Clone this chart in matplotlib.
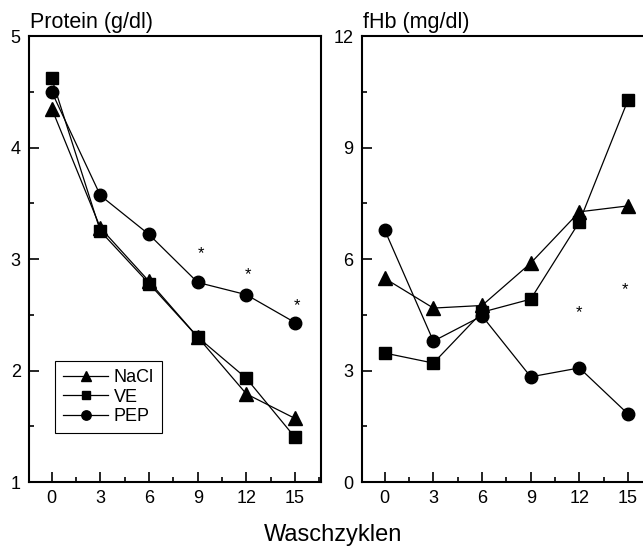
import matplotlib
matplotlib.use("Agg")
import matplotlib.pyplot as plt
from matplotlib.ticker import MultipleLocator

plt.rcParams["font.family"] = ["Liberation Sans", "DejaVu Sans"]

cycles = [0, 3, 6, 9, 12, 15]

# Protein (g/dl)
prot_nacl = [4.35, 3.28, 2.80, 2.30, 1.79, 1.57]
prot_ve = [4.62, 3.25, 2.78, 2.30, 1.93, 1.40]
prot_pep = [4.50, 3.57, 3.22, 2.79, 2.68, 2.43]
prot_star_x = [9.2, 12.1, 15.1]
prot_star_y = [3.05, 2.86, 2.58]

# fHb (mg/dl)
fhb_nacl = [5.48, 4.68, 4.75, 5.89, 7.27, 7.43]
fhb_ve = [3.47, 3.20, 4.57, 4.92, 7.00, 10.28]
fhb_pep = [6.78, 3.79, 4.47, 2.83, 3.07, 1.83]
fhb_star_x = [12.0, 14.8]
fhb_star_y = [4.55, 5.18]

series = [("NaCl", "^", 10), ("VE", "s", 8), ("PEP", "o", 9)]

fig = plt.figure(figsize=(6.43, 5.46), dpi=100)
ax1 = fig.add_axes([0.0451, 0.1172, 0.4541, 0.8168])
ax2 = fig.add_axes([0.5630, 0.1172, 0.4541, 0.8168])


def style(ax, ylim, ymaj, ymin, title):
    ax.set_xlim(-1.4, 16.6)
    ax.set_ylim(*ylim)
    ax.xaxis.set_major_locator(MultipleLocator(3))
    ax.xaxis.set_minor_locator(MultipleLocator(1.5))
    ax.yaxis.set_major_locator(MultipleLocator(ymaj))
    ax.yaxis.set_minor_locator(MultipleLocator(ymin))
    ax.tick_params(which="major", direction="in", length=7, width=1.2,
                   labelsize=13, pad=6)
    ax.tick_params(which="minor", direction="in", length=3.5, width=1.2)
    ax.tick_params(top=False, right=False, which="both")
    for s in ax.spines.values():
        s.set_linewidth(1.5)
    ax.annotate(title, xy=(0, 1), xycoords="axes fraction", xytext=(1, 6),
                textcoords="offset points", ha="left", va="baseline", fontsize=15.5)


for ax, data in [(ax1, [prot_nacl, prot_ve, prot_pep]),
                 (ax2, [fhb_nacl, fhb_ve, fhb_pep])]:
    for (lab, m, ms), ys in zip(series, data):
        ax.plot(cycles, ys, color="black", lw=0.9, marker=m, ms=ms, label=lab,
                clip_on=False)

for x, y in zip(prot_star_x, prot_star_y):
    ax1.text(x, y, "*", ha="center", va="center", fontsize=12)
for x, y in zip(fhb_star_x, fhb_star_y):
    ax2.text(x, y, "*", ha="center", va="center", fontsize=12)

style(ax1, (1, 5), 1, 0.5, "Protein (g/dl)")
style(ax2, (0, 12), 3, 1.5, "fHb (mg/dl)")

leg = ax1.legend(loc="lower left", bbox_to_anchor=(0.089, 0.11), borderaxespad=0,
                 fontsize=13, fancybox=False, edgecolor="black", framealpha=1,
                 handlelength=2.5, handletextpad=0.3, labelspacing=0.12,
                 borderpad=0.45, markerscale=0.75)
leg.get_frame().set_linewidth(0.8)

fig.text(0.518, 0.02, "Waschzyklen", ha="center", va="center", fontsize=17)

fig.savefig("out.png", dpi=100)
